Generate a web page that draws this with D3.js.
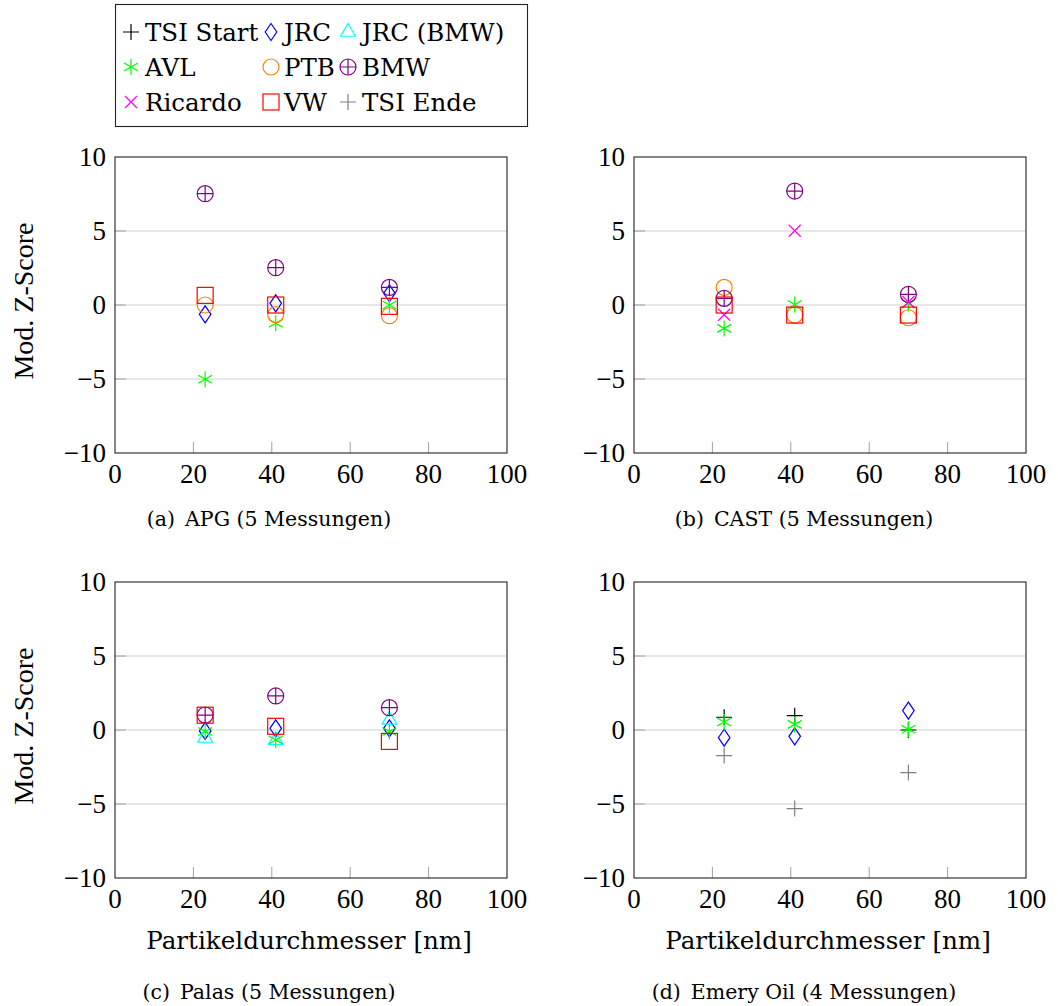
<!DOCTYPE html>
<html>
<head>
<meta charset="utf-8">
<script src="https://cdn.jsdelivr.net/npm/d3@7"></script>
<style>
body { margin: 0; background: #fff; }
</style>
</head>
<body>
<svg width="1058" height="1006"></svg>
<script>
var diameters = [23, 41, 70];
var seriesNames = ["TSI Start", "JRC", "JRC (BMW)", "AVL", "PTB", "BMW", "Ricardo", "VW", "TSI Ende"];
var seriesColors = ["#000000", "#0000ff", "#00ffff", "#00ff00", "#ff8000", "#800080", "#ff00ff", "#ff0000", "#808080"];
var seriesMarks = ["plus", "diamond", "triangle", "asterisk", "circle", "oplus", "times", "square", "plus"];
var xTicks = [0, 20, 40, 60, 80, 100];
var yTicks = [-10, -5, 0, 5, 10];
var gridTicks = [-5, 0, 5];

// mod. z-scores per test aerosol, one array per lab (values at 23, 41, 70 nm)
var apgScores = {
    "JRC": [-0.63, 0.11, 0.79],
    "AVL": [-5.02, -1.24, 0.0],
    "PTB": [0.0, -0.65, -0.72],
    "BMW": [7.52, 2.52, 1.19],
    "VW": [0.65, 0.0, -0.09]
};
var castScores = {
    "AVL": [-1.58, 0.04, 0.1],
    "PTB": [1.19, -0.68, -0.86],
    "BMW": [0.45, 7.7, 0.72],
    "Ricardo": [-0.66, 5.02, 0.2],
    "VW": [0.0, -0.68, -0.68]
};
var palasScores = {
    "JRC": [-0.06, 0.11, 0.11],
    "JRC (BMW)": [-0.54, -0.7, 0.68],
    "AVL": [-0.1, -0.68, -0.1],
    "BMW": [1.01, 2.3, 1.51],
    "VW": [1.0, 0.25, -0.77]
};
var emeryScores = {
    "TSI Start": [0.86, 0.97, 0.0],
    "JRC": [-0.52, -0.43, 1.31],
    "AVL": [0.54, 0.38, 0.05],
    "TSI Ende": [-1.73, -5.31, -2.88]
};
var captions = ["APG (5 Messungen)", "CAST (5 Messungen)", "Palas (5 Messungen)", "Emery Oil (4 Messungen)"];
var captionTags = ["(a)", "(b)", "(c)", "(d)"];

var svg = d3.select("svg");
var tickFont = "'Liberation Serif', serif";
var textFont = "'DejaVu Serif', serif";

var panels = [
    {scores: apgScores, left: 115, top: 157, yLabel: true, xLabel: false, capX: 269, capY: 526},
    {scores: castScores, left: 634, top: 157, yLabel: false, xLabel: false, capX: 804, capY: 526},
    {scores: palasScores, left: 115, top: 582, yLabel: true, xLabel: true, capX: 269, capY: 999},
    {scores: emeryScores, left: 634, top: 582, yLabel: false, xLabel: true, capX: 804, capY: 999}
];
var plotW = 392, plotH = 296;

function drawMark(g, type, color) {
    var r = 8;
    var s = g.append("g").attr("fill", "none").attr("stroke", color).attr("stroke-width", 1.2);
    if (type == "plus") {
        s.append("path").attr("d", "M" + (-r) + ",0H" + r + "M0," + (-r) + "V" + r);
    } else if (type == "times") {
        var t = 6;
        s.append("path").attr("d", "M" + (-t) + "," + (-t) + "L" + t + "," + t + "M" + (-t) + "," + t + "L" + t + "," + (-t));
    } else if (type == "diamond") {
        s.append("path").attr("d", "M0,-8.5L5.8,0L0,8.5L-5.8,0Z");
    } else if (type == "triangle") {
        var q = 8.5;
        s.append("path").attr("d", "M0," + (-q) + "L" + (0.866 * q) + "," + (0.5 * q) + "L" + (-0.866 * q) + "," + (0.5 * q) + "Z");
    } else if (type == "asterisk") {
        var a = 8, c = a * Math.cos(Math.PI / 6), h = a * Math.sin(Math.PI / 6);
        s.append("path").attr("d", "M0," + (-a) + "V" + a +
            "M" + (-c) + "," + (-h) + "L" + c + "," + h +
            "M" + (-c) + "," + h + "L" + c + "," + (-h));
    } else if (type == "circle") {
        s.append("circle").attr("r", r);
    } else if (type == "oplus") {
        s.append("circle").attr("r", r);
        s.append("path").attr("d", "M" + (-r) + ",0H" + r + "M0," + (-r) + "V" + r);
    } else if (type == "square") {
        s.append("rect").attr("x", -r).attr("y", -r).attr("width", 2 * r).attr("height", 2 * r);
    }
}

panels.forEach(function(p, pi) {
    var x = d3.scaleLinear().domain([0, 100]).range([p.left, p.left + plotW]);
    var y = d3.scaleLinear().domain([-10, 10]).range([p.top + plotH, p.top]);
    var g = svg.append("g");

    // horizontal grid
    g.selectAll(".grid").data(gridTicks).enter().append("line")
        .attr("x1", x(0)).attr("x2", x(100))
        .attr("y1", function(d) { return y(d); }).attr("y2", function(d) { return y(d); })
        .attr("stroke", "#cfcfcf").attr("stroke-width", 1);

    // inner tick marks
    g.selectAll(".xt").data(xTicks.slice(1, -1)).enter().append("line")
        .attr("x1", function(d) { return x(d); }).attr("x2", function(d) { return x(d); })
        .attr("y1", y(-10)).attr("y2", y(-10) - 11)
        .attr("stroke", "#a0a0a0").attr("stroke-width", 1);
    g.selectAll(".yt").data(gridTicks).enter().append("line")
        .attr("x1", x(0)).attr("x2", x(0) + 11)
        .attr("y1", function(d) { return y(d); }).attr("y2", function(d) { return y(d); })
        .attr("stroke", "#a0a0a0").attr("stroke-width", 1);

    // frame
    g.append("rect").attr("x", x(0)).attr("y", y(10))
        .attr("width", x(100) - x(0)).attr("height", y(-10) - y(10))
        .attr("fill", "none").attr("stroke", "#222").attr("stroke-width", 1.1);

    // tick labels
    g.selectAll(".xl").data(xTicks).enter().append("text")
        .attr("x", function(d) { return x(d); }).attr("y", y(-10) + 30)
        .attr("text-anchor", "middle").attr("font-family", tickFont).attr("font-size", 27)
        .text(function(d) { return d; });
    g.selectAll(".yl").data(yTicks).enter().append("text")
        .attr("x", x(0) - 9).attr("y", function(d) { return y(d) + 9; })
        .attr("text-anchor", "end").attr("font-family", tickFont).attr("font-size", 27)
        .text(function(d) { return d < 0 ? "\u2212" + Math.abs(d) : d; });

    if (p.yLabel) {
        g.append("text")
            .attr("transform", "translate(" + 33 + "," + ((y(10) + y(-10)) / 2 - 4) + ") rotate(-90)")
            .attr("text-anchor", "middle").attr("font-family", tickFont).attr("font-size", 28)
            .text("Mod. Z-Score");
    }
    if (p.xLabel) {
        g.append("text")
            .attr("x", (x(0) + x(100)) / 2 - 2).attr("y", y(-10) + 71)
            .attr("text-anchor", "middle").attr("font-family", textFont).attr("font-size", 24.6)
            .text("Partikeldurchmesser [nm]");
    }

    var cap = g.append("text").attr("x", p.capX).attr("y", p.capY)
        .attr("text-anchor", "middle").attr("font-family", textFont).attr("font-size", 20.5);
    cap.append("tspan").text(captionTags[pi]);
    cap.append("tspan").attr("dx", 10).text(captions[pi]);

    // marks, in legend order
    seriesNames.forEach(function(name, si) {
        var vals = p.scores[name];
        if (!vals) return;
        vals.forEach(function(v, k) {
            var m = g.append("g").attr("transform", "translate(" + x(diameters[k]) + "," + y(v) + ")");
            drawMark(m, seriesMarks[si], seriesColors[si]);
        });
    });
});

// legend
var legend = svg.append("g");
legend.append("rect").attr("x", 115.5).attr("y", 4.5).attr("width", 412).attr("height", 122)
    .attr("fill", "#fff").attr("stroke", "#222").attr("stroke-width", 1.1);
var legCols = [131, 271, 348];
var legRows = [32, 67, 102];
var legTextCols = [145, 284, 362];
seriesNames.forEach(function(name, si) {
    var col = si % 3, row = Math.floor(si / 3);
    var m = legend.append("g").attr("transform", "translate(" + legCols[col] + "," + legRows[row] + ")");
    drawMark(m, seriesMarks[si], seriesColors[si]);
    legend.append("text").attr("x", legTextCols[col]).attr("y", legRows[row] + 9)
        .attr("font-family", textFont).attr("font-size", 24.5)
        .text(name);
});
</script>
</body>
</html>
